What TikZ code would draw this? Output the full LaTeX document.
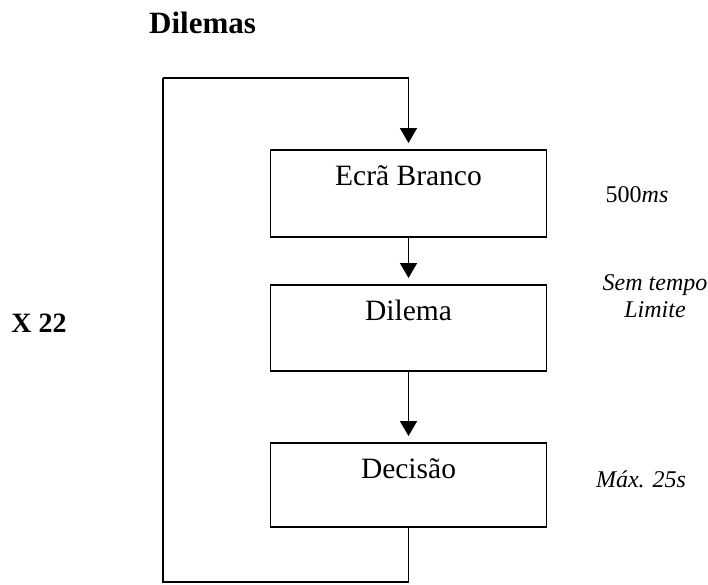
\documentclass[tikz,border=0pt]{standalone}
\usepackage{fontspec}
\setmainfont{Liberation Serif}
\usetikzlibrary{arrows.meta}
\tikzset{
  flow/.style={line width=1.8pt, draw=black},
  arr/.style={flow, -{Triangle[width=17pt,length=15pt]}, shorten >=6pt},
  stepbox/.style={draw=black, line width=1.8pt, minimum width=276pt, inner xsep=0pt, inner ysep=0pt,
    font=\fontsize{29.5}{34}\selectfont, text height=36pt},
  side/.style={inner sep=0pt, anchor=base, font=\fontsize{24}{27}\selectfont\itshape, align=center},
}
\begin{document}
\begin{tikzpicture}[x=1pt,y=-1pt]
\useasboundingbox (0,0) rectangle (708,584);
\node[inner sep=0pt, anchor=base west, font=\fontsize{31}{36}\selectfont\bfseries] (title) at (149,33) {Dilemas};
\node[stepbox, text depth=51pt, anchor=north] (ecra) at (408.5,149) {Ecrã Branco};
\node[stepbox, text depth=50pt, anchor=north] (dilema) at (408.5,284) {Dilema};
\node[stepbox, text depth=48pt, anchor=north] (decisao) at (408.5,442) {Decisão};
\node[side] (t1) at (637,202) {\upshape 500\itshape ms};
\node[side] (t2) at (655,317) {Sem tempo\\Limite};
\node[side] (t3) at (641,487) {Máx. 25s};
\node[inner sep=0pt, anchor=base, font=\fontsize{28}{32}\selectfont\bfseries] (rep) at (39,332) {X 22};
\coordinate (b2) at (163,582);
\coordinate (b3) at (163,78);
\draw[arr] (b3) -| (ecra.north);
\draw[flow] (decisao.south) |- (b2) -- (b3);
\draw[arr] (ecra.south) -- (dilema.north);
\draw[arr] (dilema.south) -- (decisao.north);
\end{tikzpicture}
\end{document}
